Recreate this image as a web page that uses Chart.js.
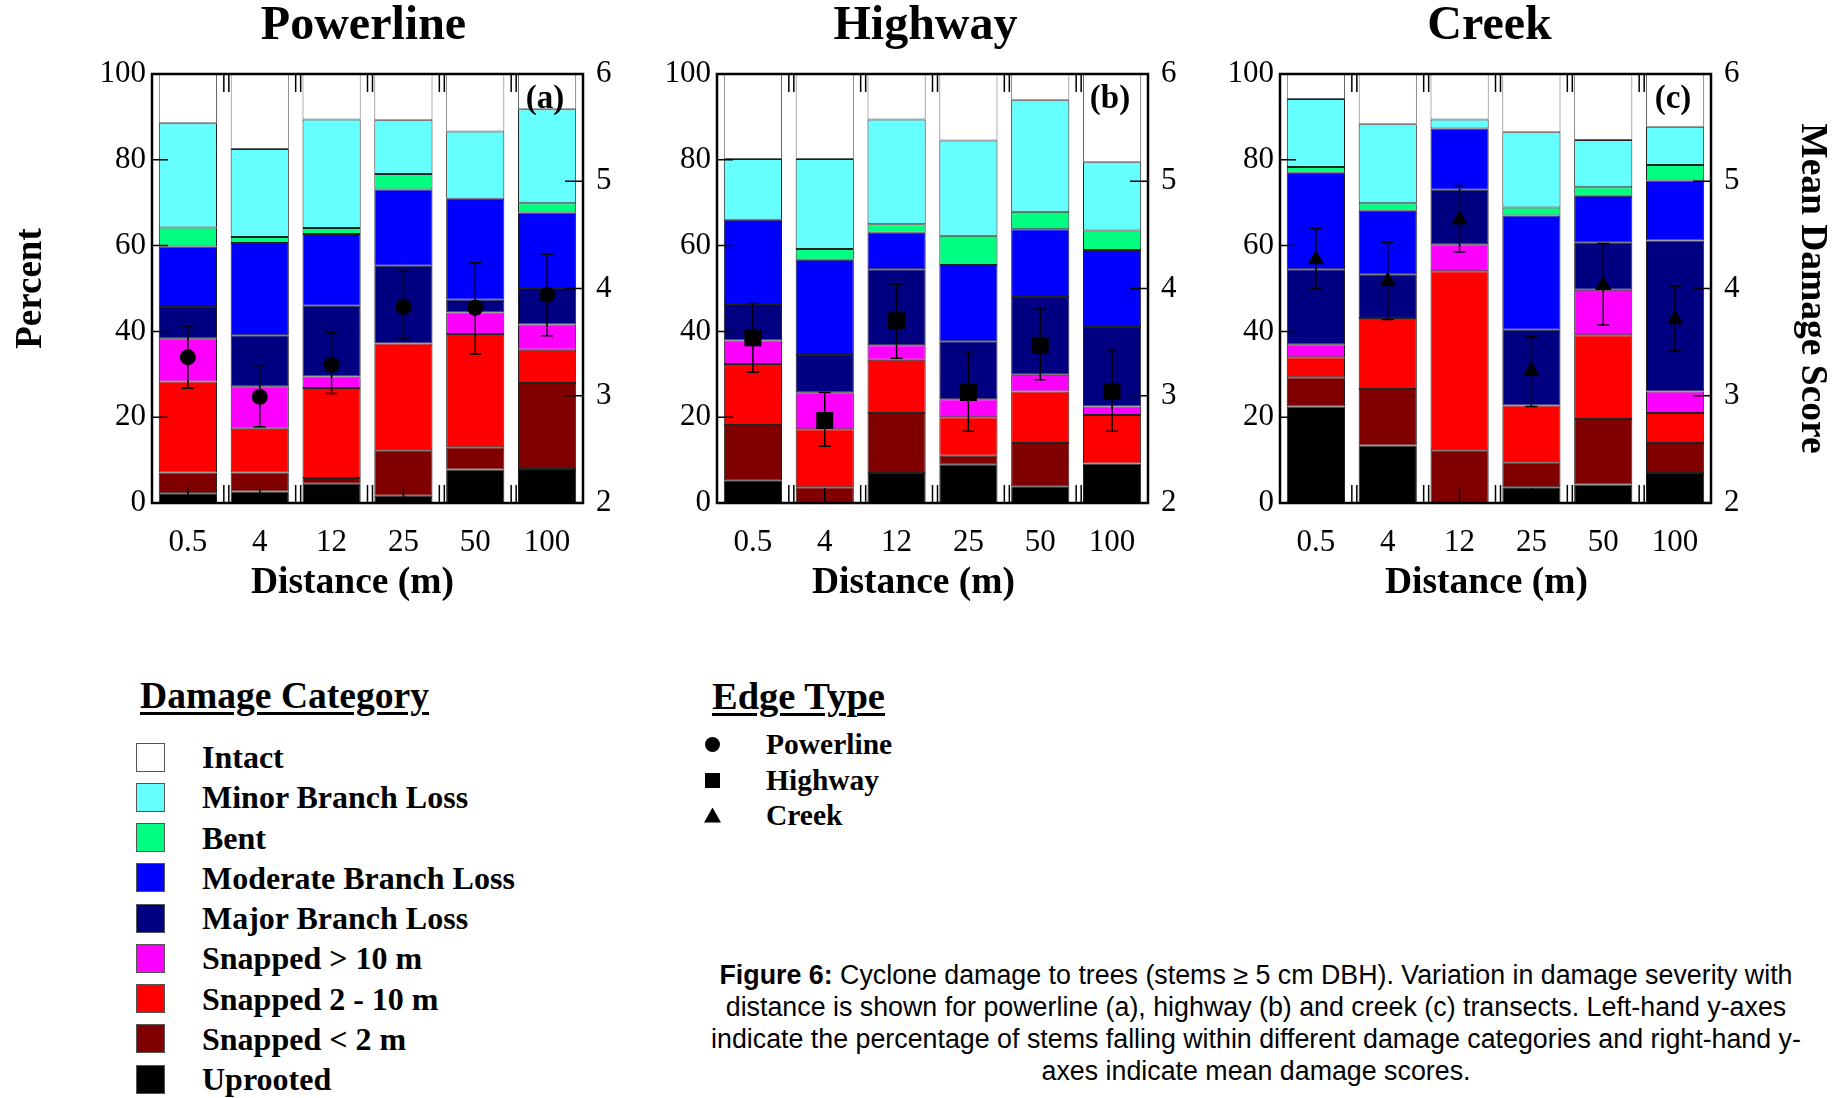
<!DOCTYPE html>
<html>
<head>
<meta charset="utf-8">
<title>Cyclone damage by distance</title>
<script src="https://cdn.jsdelivr.net/npm/chart.js@4.4.1/dist/chart.umd.min.js"></script>
<style>
  body { margin: 0; width: 1839px; height: 1098px; background: #fff; position: relative; overflow: hidden;
         font-family: "Liberation Serif", "Times New Roman", serif; color: #000; }
  canvas { position: absolute; top: 0; }
  .lg-title { position: absolute; font-weight: bold; font-size: 37.6px; line-height: 36px; white-space: nowrap;
              text-decoration: underline; text-decoration-thickness: 3px; text-underline-offset: 4px; }
  .lg-title.edge { font-size: 38.5px; }
  .lg-label { position: absolute; font-weight: bold; font-size: 32px; line-height: 36px; white-space: nowrap; }
  .lg-label.edge { font-size: 29.5px; }
  .lg-box { position: absolute; width: 29px; height: 29px; box-sizing: border-box; border: 1.5px solid #555; }
  .sym { position: absolute; background: #000; }
  #caption { position: absolute; left: 656px; width: 1200px; top: 959px; text-align: center; white-space: nowrap;
             font-family: "Liberation Sans", Arial, sans-serif; font-size: 26.8px; line-height: 32px; }
</style>
</head>
<body>
<canvas id="powerlineChart" width="727" height="620" style="left:0px"></canvas>
<canvas id="highwayChart" width="567" height="620" style="left:642px"></canvas>
<canvas id="creekChart" width="675" height="620" style="left:1152px"></canvas>

<div id="legends"></div>

<div id="caption"><b>Figure 6:</b> Cyclone damage to trees (stems ≥ 5 cm DBH). Variation in damage severity with<br>distance is shown for powerline (a), highway (b) and creek (c) transects. Left-hand y-axes<br>indicate the percentage of stems falling within different damage categories and right-hand y-<br>axes indicate mean damage scores.</div>

<script>
const distances = ['0.5', '4', '12', '25', '50', '100'];
const damageCategories = ['Uprooted', 'Snapped < 2 m', 'Snapped 2 - 10 m', 'Snapped > 10 m',
  'Major Branch Loss', 'Moderate Branch Loss', 'Bent', 'Minor Branch Loss', 'Intact'];
const damageColors = ['#000000', '#800000', '#ff0000', '#ff00ff', '#000080', '#0000ff', '#00ff80', '#66ffff', '#ffffff'];
const edgeTypes = ['Powerline', 'Highway', 'Creek'];

// percent of stems, one row per damage category (same order as damageCategories)
const powerlinePct = [
  [2.3, 2.7, 4.5, 1.7, 7.8, 7.9],
  [4.8, 4.4, 1.3, 10.6, 5.2, 20.1],
  [21.2, 10.2, 21.0, 24.9, 26.4, 7.7],
  [10.1, 9.9, 2.7, 0, 5.0, 5.9],
  [7.3, 11.9, 16.5, 18.1, 3.0, 8.5],
  [14.1, 21.5, 16.7, 17.8, 23.5, 17.6],
  [4.4, 1.4, 1.4, 3.6, 0, 2.2],
  [24.3, 20.5, 25.3, 12.5, 15.7, 21.9],
  [11.5, 17.5, 10.6, 10.8, 13.4, 8.2]
];
const highwayPct = [
  [5.3, 0, 7.0, 8.9, 3.9, 9.2],
  [12.9, 3.7, 14.0, 2.1, 10.1, 0],
  [14.2, 13.5, 12.4, 9.0, 12.0, 11.3],
  [5.5, 8.6, 3.4, 4.2, 3.9, 2.0],
  [8.5, 8.7, 17.7, 13.5, 18.1, 18.5],
  [19.6, 22.2, 8.5, 17.8, 15.8, 18.0],
  [0, 2.5, 2.0, 6.8, 4.1, 4.5],
  [14.2, 21.0, 24.4, 22.2, 26.0, 15.9],
  [19.8, 19.8, 10.6, 15.5, 6.1, 20.6]
];
const creekPct = [
  [22.5, 13.4, 0, 3.7, 4.3, 7.0],
  [6.8, 13.2, 12.3, 5.8, 15.3, 7.0],
  [4.7, 16.5, 41.7, 13.2, 19.5, 7.0],
  [3.0, 0, 6.3, 0, 10.6, 5.0],
  [17.5, 10.2, 12.7, 17.7, 11.1, 35.2],
  [22.5, 14.8, 14.3, 26.6, 10.8, 14.0],
  [1.3, 1.8, 0, 1.9, 2.0, 3.6],
  [15.9, 18.4, 2.1, 17.5, 11.0, 8.9],
  [5.8, 11.7, 10.6, 13.6, 15.4, 12.3]
];

// mean damage score with error bar ends
const powerlineScore = [3.36, 2.99, 3.29, 3.83, 3.82, 3.94];
const powerlineLow   = [3.07, 2.71, 3.02, 3.53, 3.39, 3.56];
const powerlineHigh  = [3.65, 3.28, 3.59, 4.16, 4.24, 4.32];
const highwayScore = [3.54, 2.77, 3.70, 3.03, 3.47, 3.04];
const highwayLow   = [3.22, 2.53, 3.35, 2.67, 3.15, 2.67];
const highwayHigh  = [3.86, 3.03, 4.04, 3.41, 3.81, 3.43];
const creekScore = [4.27, 4.07, 4.64, 3.23, 4.03, 3.71];
const creekLow   = [4.00, 3.71, 4.34, 2.90, 3.66, 3.42];
const creekHigh  = [4.56, 4.43, 4.96, 3.55, 4.42, 4.02];

const SERIF = 'Liberation Serif';

// frame, inward ticks, panel letter, x title and error bars
const panelFrame = {
  id: 'panelFrame',
  beforeDatasetDraw(chart, args, opts) {
    if (args.meta.type !== 'line') return;
    const ctx = chart.ctx, x = chart.scales.x, y2 = chart.scales.y2;
    ctx.save();
    ctx.strokeStyle = '#000';
    ctx.lineWidth = 1.5;
    opts.low.forEach((lo, i) => {
      const px = x.getPixelForValue(i);
      const a = y2.getPixelForValue(lo), b = y2.getPixelForValue(opts.high[i]);
      ctx.beginPath();
      ctx.moveTo(px, a); ctx.lineTo(px, b);
      ctx.moveTo(px - 6, a); ctx.lineTo(px + 6, a);
      ctx.moveTo(px - 6, b); ctx.lineTo(px + 6, b);
      ctx.stroke();
    });
    ctx.restore();
  },
  afterDatasetsDraw(chart, args, opts) {
    const {ctx, chartArea: {left, right, top, bottom}} = chart;
    const x = chart.scales.x, y = chart.scales.y, y2 = chart.scales.y2;
    ctx.save();
    ctx.strokeStyle = '#000';
    ctx.lineWidth = 1.5;
    ctx.beginPath();
    y.ticks.forEach(t => {
      const py = y.getPixelForValue(t.value);
      ctx.moveTo(left, py); ctx.lineTo(left + 16, py);
    });
    y2.ticks.forEach(t => {
      const py = y2.getPixelForValue(t.value);
      ctx.moveTo(right, py); ctx.lineTo(right - 18, py);
    });
    for (let i = 0; i < distances.length - 1; i++) {
      const bx = (x.getPixelForValue(i) + x.getPixelForValue(i + 1)) / 2;
      [bx, bx + 5].forEach(px => {
        ctx.moveTo(px, top); ctx.lineTo(px, top + 18);
        ctx.moveTo(px, bottom); ctx.lineTo(px, bottom - 18);
      });
    }
    for (let i = 0; i < distances.length; i++) {
      const px = x.getPixelForValue(i);
      ctx.moveTo(px, bottom); ctx.lineTo(px, bottom - 15);
    }
    ctx.stroke();
    ctx.lineWidth = 2.5;
    ctx.strokeRect(left, top, right - left, bottom - top);
    ctx.fillStyle = '#000';
    ctx.textAlign = 'center';
    ctx.textBaseline = 'middle';
    ctx.font = 'bold 33px "' + SERIF + '"';
    ctx.fillText('(' + opts.letter + ')', right - 38, top + 25);
    ctx.font = 'bold 37.5px "' + SERIF + '"';
    ctx.fillText('Distance (m)', (left + right) / 2 + opts.titleShift, bottom + 80.5);
    ctx.restore();
  }
};

function drawPanel(canvasId, title, letter, pct, score, low, high, marker, radius, side, rightSide, titleShift, leftTitle, rightTitle) {
  const datasets = pct.map((row, k) => ({
    type: 'bar',
    label: damageCategories[k],
    data: row,
    backgroundColor: damageColors[k],
    borderColor: k === 8 ? '#666' : '#222',
    borderWidth: 1,
    borderSkipped: false,
    barPercentage: 0.81,
    categoryPercentage: 1,
    yAxisID: 'y'
  }));
  datasets.push({
    type: 'line',
    label: title,
    data: score,
    yAxisID: 'y2',
    showLine: false,
    order: -1,
    pointStyle: marker,
    pointRadius: radius,
    pointBackgroundColor: '#000',
    pointBorderColor: '#000',
    pointBorderWidth: 0
  });

  const tickFont = { family: SERIF, size: 31 };

  new Chart(document.getElementById(canvasId), {
    type: 'bar',
    data: { labels: distances, datasets: datasets },
    options: {
      responsive: false,
      animation: false,
      events: [],
      layout: { padding: 0 },
      plugins: {
        legend: { display: false },
        tooltip: { enabled: false },
        title: {
          display: true, text: title, color: '#000',
          font: { family: SERIF, size: 48, weight: 'bold', lineHeight: 1 },
          padding: { top: 3, bottom: 23 }
        },
        panelFrame: { letter: letter, low: low, high: high, titleShift: titleShift }
      },
      scales: {
        x: {
          stacked: true,
          grid: { display: false, drawTicks: false },
          border: { display: false },
          ticks: { color: '#000', font: tickFont, padding: 21, maxRotation: 0, autoSkip: false },
          title: { display: false },
          afterFit: s => { s.height = 117; }
        },
        y: {
          stacked: true, position: 'left', min: 0, max: 100,
          grid: { display: false, drawTicks: false },
          border: { display: false },
          ticks: { stepSize: 20, color: '#000', font: tickFont, padding: 6 },
          title: { display: leftTitle, text: 'Percent', color: '#000', font: { family: SERIF, size: 37, weight: 'bold' }, padding: { top: 9 } },
          afterFit: s => { s.width = side; }
        },
        y2: {
          position: 'right', min: 2, max: 6,
          grid: { display: false, drawTicks: false },
          border: { display: false },
          ticks: { stepSize: 1, color: '#000', font: tickFont, padding: 13 },
          title: { display: rightTitle, text: 'Mean Damage Score', color: '#000', font: { family: SERIF, size: 37.5, weight: 'bold' }, padding: { top: -7 } },
          afterFit: s => { s.width = rightSide; }
        }
      }
    },
    plugins: [panelFrame]
  });
}

function buildLegends() {
  const holder = document.getElementById('legends');
  let html = '<div class="lg-title" style="left:140px;top:678px">Damage Category</div>';
  const order = damageCategories.map((_, k) => k).reverse();
  order.forEach((k, i) => {
    const cy = 757 + i * 40.25;
    html += '<div class="lg-box" style="left:136px;top:' + (cy - 14.5) + 'px;background:' + damageColors[k] + '"></div>';
    html += '<div class="lg-label" style="left:202px;top:' + (cy - 18) + 'px">' + damageCategories[k].replace('<', '&lt;').replace('>', '&gt;') + '</div>';
  });

  html += '<div class="lg-title edge" style="left:712px;top:678px">Edge Type</div>';
  const edgeY = [744, 780, 815];
  edgeTypes.forEach((name, i) => {
    const cy = edgeY[i];
    if (i === 0) {
      html += '<div class="sym" style="left:705px;top:' + (cy - 7.5) + 'px;width:15px;height:15px;border-radius:50%"></div>';
    } else if (i === 1) {
      html += '<div class="sym" style="left:705px;top:' + (cy - 7.5) + 'px;width:15px;height:15px"></div>';
    } else {
      html += '<div class="sym" style="left:704px;top:' + (cy - 7.5) + 'px;width:17px;height:15px;clip-path:polygon(50% 0,100% 100%,0 100%)"></div>';
    }
    html += '<div class="lg-label edge" style="left:766px;top:' + (cy - 18) + 'px">' + name + '</div>';
  });
  holder.innerHTML = html;
}

document.addEventListener('DOMContentLoaded', () => {
  drawPanel('powerlineChart', 'Powerline', 'a', powerlinePct, powerlineScore, powerlineLow, powerlineHigh, 'circle', 8, 152, 144, -15, true, false);
  drawPanel('highwayChart', 'Highway', 'b', highwayPct, highwayScore, highwayLow, highwayHigh, 'rect', 12, 75, 61, -19, false, false);
  drawPanel('creekChart', 'Creek', 'c', creekPct, creekScore, creekLow, creekHigh, 'triangle', 9.5, 128, 116, -9, false, true);
  buildLegends();
});
</script>
</body>
</html>
